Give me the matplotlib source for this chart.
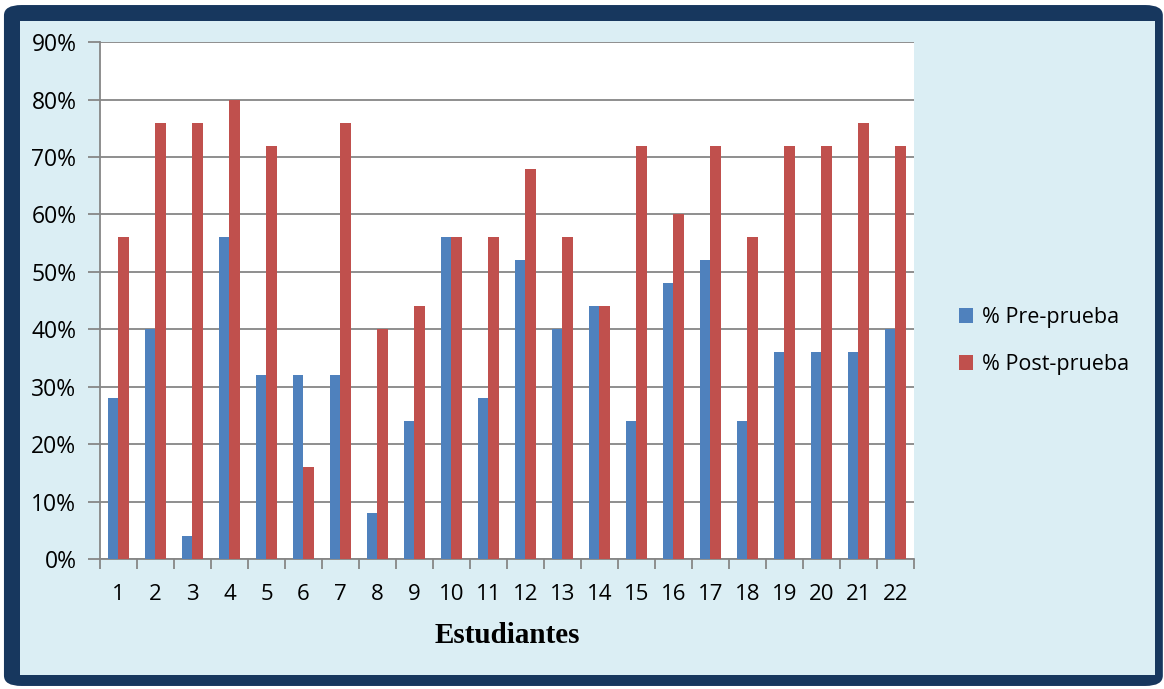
import matplotlib.pyplot as plt
import numpy as np
from matplotlib.patches import FancyBboxPatch
from matplotlib.ticker import FixedLocator, PercentFormatter

# Porcentajes por estudiante
estudiantes = [str(i) for i in range(1, 23)]
pre_prueba = [28, 40, 4, 56, 32, 32, 32, 8, 24, 56, 28, 52, 40, 44, 24, 48, 52, 24, 36, 36, 36, 40]
post_prueba = [56, 76, 76, 80, 72, 16, 76, 40, 44, 56, 56, 68, 56, 44, 72, 60, 72, 56, 72, 72, 76, 72]

azul = '#4F81BD'
rojo = '#C0504D'
gris = '#868686'

fig = plt.figure(figsize=(11.64, 6.89), dpi=100, facecolor='white')

# marco oscuro con esquinas redondeadas y fondo celeste
marco = FancyBboxPatch((0.0034, 0.0044), 0.9956, 0.9883,
                       boxstyle='round,pad=0,rounding_size=0.015',
                       transform=fig.transFigure, facecolor='#17375E',
                       edgecolor='none', zorder=-3)
fondo = FancyBboxPatch((0.0172, 0.0203), 0.9751, 0.9492,
                       boxstyle='square,pad=0', transform=fig.transFigure,
                       facecolor='#DBEEF4', edgecolor='none', zorder=-2)
fig.patches.extend([marco, fondo])

ax = fig.add_axes([0.0859, 0.1887, 0.6993, 0.750])
ax.set_facecolor('white')

x = np.arange(len(estudiantes))
w = 1 / 3.5
ax.bar(x - w / 2, pre_prueba, w, color=azul, label='% Pre-prueba', zorder=3)
ax.bar(x + w / 2, post_prueba, w, color=rojo, label='% Post-prueba', zorder=3)

ax.set_xlim(-0.5, len(estudiantes) - 0.5)
ax.set_ylim(0, 90)
ax.set_yticks(range(0, 91, 10))
ax.yaxis.set_major_formatter(PercentFormatter(decimals=0))
ax.yaxis.grid(True, color=gris, linewidth=1.3, zorder=0)
ax.set_axisbelow(True)

ax.set_xticks(x)
ax.set_xticklabels(estudiantes)
ax.xaxis.set_minor_locator(FixedLocator(np.arange(-0.5, len(estudiantes), 1)))
ax.tick_params(axis='x', which='major', length=0, pad=18, labelsize=16)
ax.tick_params(axis='x', which='minor', length=7, color=gris, width=1.3)
ax.tick_params(axis='y', length=9, color=gris, width=1.3, labelsize=16.5, pad=8)

for s in ['top', 'right']:
    ax.spines[s].set_visible(False)
for s in ['left', 'bottom']:
    ax.spines[s].set_color(gris)
    ax.spines[s].set_linewidth(1.3)

for lbl in ax.get_xticklabels() + ax.get_yticklabels():
    lbl.set_family('Open Sans')

ax.set_xlabel('Estudiantes', family='Liberation Serif', fontweight='bold',
              fontsize=21, labelpad=12)

fig.legend(loc='center left', bbox_to_anchor=(0.807, 0.505), frameon=False,
           prop={'family': 'Open Sans', 'size': 15.5}, handlelength=0.65,
           handleheight=0.65, handletextpad=0.45, labelspacing=1.2)

fig.savefig('out.png', dpi=100, facecolor=fig.get_facecolor())
